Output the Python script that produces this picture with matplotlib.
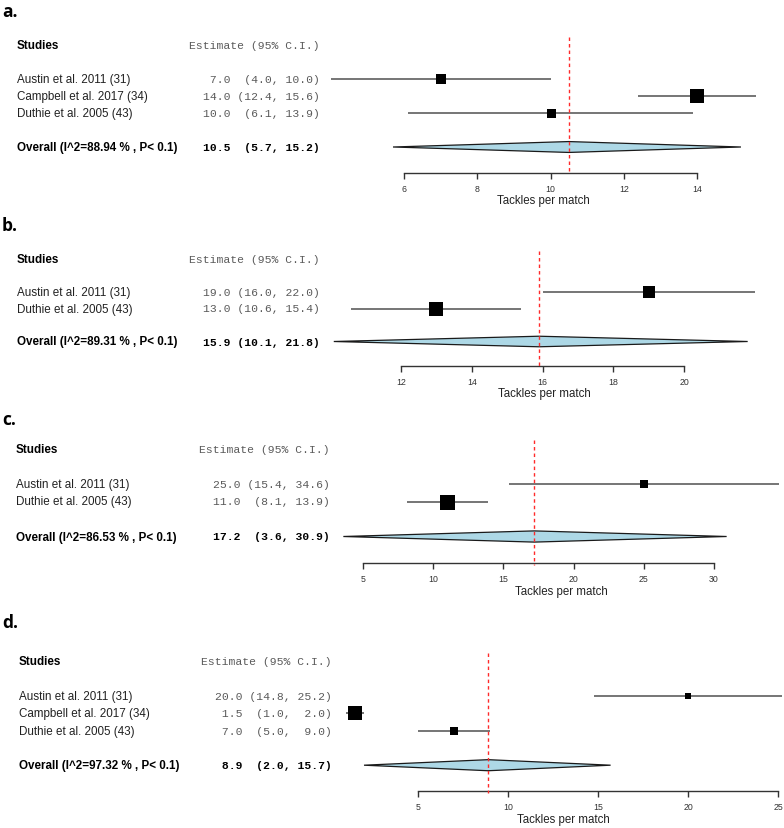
import matplotlib
matplotlib.use("Agg")
import matplotlib.pyplot as plt
from matplotlib.patches import Polygon
from matplotlib.transforms import blended_transform_factory

W, H = 784, 829

# ---------------- data ----------------
a_studies = ["Austin et al. 2011 (31)", "Campbell et al. 2017 (34)", "Duthie et al. 2005 (43)"]
a_est = [7.0, 14.0, 10.0]
a_lo = [4.0, 12.4, 6.1]
a_hi = [10.0, 15.6, 13.9]
a_box = [10, 14, 9]
a_overall = (10.5, 5.7, 15.2)
a_i2 = 88.94
a_ticks = [6, 8, 10, 12, 14]

b_studies = ["Austin et al. 2011 (31)", "Duthie et al. 2005 (43)"]
b_est = [19.0, 13.0]
b_lo = [16.0, 10.6]
b_hi = [22.0, 15.4]
b_box = [12, 14.5]
b_overall = (15.9, 10.1, 21.8)
b_i2 = 89.31
b_ticks = [12, 14, 16, 18, 20]

c_studies = ["Austin et al. 2011 (31)", "Duthie et al. 2005 (43)"]
c_est = [25.0, 11.0]
c_lo = [15.4, 8.1]
c_hi = [34.6, 13.9]
c_box = [8, 15]
c_overall = (17.2, 3.6, 30.9)
c_i2 = 86.53
c_ticks = [5, 10, 15, 20, 25, 30]

d_studies = ["Austin et al. 2011 (31)", "Campbell et al. 2017 (34)", "Duthie et al. 2005 (43)"]
d_est = [20.0, 1.5, 7.0]
d_lo = [14.8, 1.0, 5.0]
d_hi = [25.2, 2.0, 9.0]
d_box = [5.3, 14.5, 7.3]
d_overall = (8.9, 2.0, 15.7)
d_i2 = 97.32
d_ticks = [5, 10, 15, 20, 25]

panel_labels = ["a.", "b.", "c.", "d."]
xlabel = "Tackles per match"

# ---------------- layout (pixels) ----------------
layouts = [
    dict(band=(0, 205), row0=80, sp=17.0, px=(404, 697), lab_y=12, name_x=17, est_x=320),
    dict(band=(205, 405), row0=293, sp=16.5, px=(401, 684), lab_y=226, name_x=17, est_x=320),
    dict(band=(405, 605), row0=485, sp=17.5, px=(363, 714), lab_y=420, name_x=16, est_x=330),
    dict(band=(605, 829), row0=697, sp=17.3, px=(418, 778), lab_y=623, name_x=19, est_x=332),
]

panels = [
    (a_studies, a_est, a_lo, a_hi, a_box, a_overall, a_i2, a_ticks),
    (b_studies, b_est, b_lo, b_hi, b_box, b_overall, b_i2, b_ticks),
    (c_studies, c_est, c_lo, c_hi, c_box, c_overall, c_i2, c_ticks),
    (d_studies, d_est, d_lo, d_hi, d_box, d_overall, d_i2, d_ticks),
]


def fmt(e, l, h):
    return f"{e:4.1f} {('(' + f'{l:.1f}' + ','):>6} {(f'{h:.1f}' + ')'):>5}"


fig = plt.figure(figsize=(W / 100, H / 100), dpi=100)

SANS = "Liberation Sans"
MONO = "Liberation Mono"
GRAY = "#5a5a5a"
LINE = "#505050"
FS_NAME = 8.4

for (studies, est, lo, hi, box, overall, i2, ticks), L, plab in zip(panels, layouts, panel_labels):
    top, bot = L["band"]
    ax = fig.add_axes([0, 1 - bot / H, 1, (bot - top) / H])
    v0, v1 = ticks[0], ticks[-1]
    p0, p1 = L["px"]
    scale = (p1 - p0) / (v1 - v0)
    ax.set_xlim(v0 - p0 / scale, v0 + (W - p0) / scale)
    sp, r0 = L["sp"], L["row0"]
    ax.set_ylim((bot - r0) / sp, (top - r0) / sp)

    n = len(studies)
    rows = list(range(n))
    ov_row = n + 1
    head_row = -2
    axis_row = ov_row + 1.5

    tr = blended_transform_factory(fig.transFigure, ax.transData)
    nx = L["name_x"] / W
    ex = L["est_x"] / W

    ax.text(nx, head_row, "Studies", transform=tr, ha="left", va="center",
            fontsize=FS_NAME, fontweight="bold", family=SANS, color="black")
    ax.text(ex, head_row, "Estimate (95% C.I.)", transform=tr, ha="right", va="center",
            fontsize=8.2, family=MONO, color=GRAY)

    for r, s, e, l, h, b in zip(rows, studies, est, lo, hi, box):
        ax.text(nx, r, s, transform=tr, ha="left", va="center",
                fontsize=FS_NAME, family=SANS, color="#222222")
        ax.text(ex, r, fmt(e, l, h), transform=tr, ha="right", va="center",
                fontsize=8.2, family=MONO, color=GRAY)
        ax.plot([l, h], [r, r], color=LINE, lw=1.1, solid_capstyle="butt", zorder=2)
        ax.plot([e], [r], marker="s", ms=b * 0.72, color="black", mew=0, zorder=3)

    oe, ol, oh = overall
    ax.text(nx, ov_row, f"Overall (I^2={i2:.2f} % , P< 0.1)", transform=tr, ha="left",
            va="center", fontsize=FS_NAME, fontweight="bold", family=SANS, color="black")
    ax.text(ex, ov_row, fmt(oe, ol, oh), transform=tr, ha="right", va="center",
            fontsize=8.2, fontweight="bold", family=MONO, color="black")
    hh = 0.32
    dia = Polygon([(ol, ov_row), (oe, ov_row - hh), (oh, ov_row), (oe, ov_row + hh)],
                  closed=True, facecolor="#ADD8E6", edgecolor="#1a1a1a", lw=0.9, zorder=3)
    ax.add_patch(dia)

    ax.plot([oe, oe], [head_row - 0.5, axis_row + 0.1], color="#ff2a2a", lw=1.0,
            ls=(0, (2.5, 2.2)), zorder=4)

    for side in ["top", "left", "right"]:
        ax.spines[side].set_visible(False)
    ax.spines["bottom"].set_position(("data", axis_row))
    ax.spines["bottom"].set_bounds(v0, v1)
    ax.spines["bottom"].set_color("#333333")
    ax.spines["bottom"].set_linewidth(1.0)
    ax.set_xticks(ticks)
    ax.set_xticklabels([str(t) for t in ticks])
    ax.tick_params(axis="x", direction="out", length=4, width=1.0, color="#333333",
                   labelsize=6.3, labelcolor="#333333", pad=4)
    for t in ax.get_xticklabels():
        t.set_family(SANS)
    ax.set_yticks([])
    ax.patch.set_visible(False)

    xc = (min(lo + [ol]) + max(hi + [oh])) / 2
    ax.text(xc, ov_row + 3.1, xlabel, ha="center", va="center", fontsize=8.3,
            family=SANS, color="#222222")

    fig.text(2 / W, 1 - L["lab_y"] / H, plab, ha="left", va="center",
             fontsize=12.5, fontweight="bold", family="Open Sans", color="black")

fig.savefig("out.png", dpi=100)
